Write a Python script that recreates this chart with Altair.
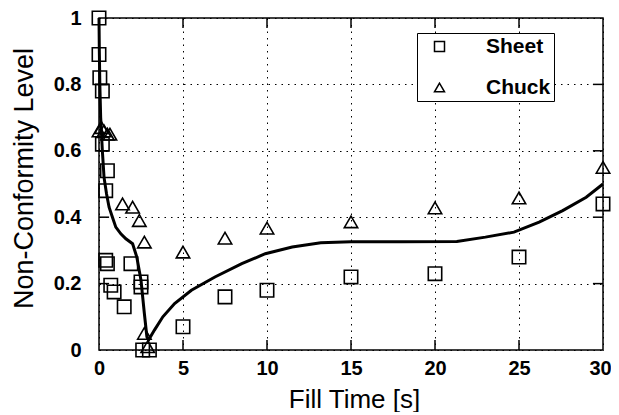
import altair as alt
import pandas as pd

# ---- data ----
sheet_x = [0, 0, 0.05, 0.2, 0.2, 0.5, 0.4, 0.4, 0.5, 0.7, 0.9, 1.5, 1.9, 2.5, 2.5, 2.6, 3.0,
           5, 7.5, 10, 15, 20, 25, 30]
sheet_y = [1.0, 0.89, 0.82, 0.78, 0.62, 0.54, 0.48, 0.27, 0.26, 0.195, 0.175, 0.13, 0.26,
           0.205, 0.19, 0.0, 0.0, 0.07, 0.16, 0.18, 0.22, 0.23, 0.28, 0.44]

chuck_x = [0, 0.15, 0.3, 0.5, 0.65, 1.4, 2.0, 2.4, 2.7, 2.7, 2.9,
           5, 7.5, 10, 15, 20, 25, 30]
chuck_y = [0.66, 0.67, 0.66, 0.65, 0.65, 0.44, 0.43, 0.39, 0.325, 0.05, 0.01,
           0.295, 0.337, 0.367, 0.386, 0.428, 0.458, 0.55]

curve_x = [0, 0.02, 0.05, 0.1, 0.2, 0.3, 0.45, 0.6, 0.8, 1.0, 1.3, 1.6, 2.0, 2.25, 2.5, 2.7,
           2.85, 2.95, 3.3, 3.8, 4.5, 5.5, 6.9, 8.5, 9.9, 11.5, 13.2, 15, 18, 21.3, 23, 24.7,
           26.2, 27.6, 29, 30]
curve_y = [1.0, 0.9, 0.8, 0.7, 0.6, 0.52, 0.47, 0.43, 0.40, 0.37, 0.35, 0.335, 0.32, 0.28,
           0.21, 0.11, 0.04, 0.03, 0.06, 0.10, 0.14, 0.18, 0.22, 0.26, 0.29, 0.31, 0.323,
           0.326, 0.326, 0.327, 0.34, 0.355, 0.385, 0.42, 0.46, 0.50]

x_ticks = [0, 5, 10, 15, 20, 25, 30]
y_ticks = [0, 0.2, 0.4, 0.6, 0.8, 1]
series = ["Sheet", "Chuck"]

FONT = "Liberation Sans"

pts = pd.DataFrame({
    "t": sheet_x + chuck_x,
    "v": sheet_y + chuck_y,
    "s": ["Sheet"] * len(sheet_x) + ["Chuck"] * len(chuck_x),
})
curve = pd.DataFrame({"t": curve_x, "v": curve_y, "o": list(range(len(curve_x)))})

xs = alt.Scale(domain=[0, 30], nice=False)
ys = alt.Scale(domain=[0, 1], nice=False)

xaxis = alt.Axis(values=x_ticks, grid=True, gridDash=[1.5, 5], gridColor="black",
                 gridOpacity=1, gridWidth=1, ticks=False, domain=False,
                 labelFont=FONT, labelFontSize=20, labelFontWeight="bold",
                 labelColor="black", labelPadding=8, labelFlush=False,
                 labelOffset={"condition": {"test": "datum.value === 30", "value": -3},
                              "value": 0},
                 title="Fill Time [s]", titleFont=FONT, titleFontSize=26,
                 titleFontWeight="normal", titleColor="black",
                 titleX=255, titleAlign="center",
                 titleY=57, titleBaseline="alphabetic")
yaxis = alt.Axis(values=y_ticks, grid=True, gridDash=[1.5, 5], gridColor="black",
                 gridOpacity=1, gridWidth=1, ticks=False, domain=False, format="~g",
                 labelFont=FONT, labelFontSize=20, labelFontWeight="bold",
                 labelColor="black", labelPadding=18,
                 title="Non-Conformity Level", titleFont=FONT, titleFontSize=27,
                 titleFontWeight="normal", titleColor="black",
                 titleX=-75, titleY=160, titleAngle=-90, titleBaseline="middle",
                 titleAlign="center")

points = alt.Chart(pts).mark_point(filled=False, strokeWidth=1.6, size=180, opacity=1,
                                   color="black").encode(
    x=alt.X("t:Q", scale=xs, axis=xaxis),
    y=alt.Y("v:Q", scale=ys, axis=yaxis),
    shape=alt.Shape("s:N", scale=alt.Scale(domain=series, range=["square", "triangle-up"]),
                    legend=alt.Legend(orient="none", legendX=318, legendY=15, title=None,
                                      strokeColor="black", fillColor="white", padding=3,
                                      symbolOffset=9, symbolSize=100,
                                      symbolStrokeWidth=1.5, symbolStrokeColor="black",
                                      symbolFillColor="white", symbolType="square",
                                      labelFont=FONT, labelFontSize=21,
                                      labelFontWeight="bold", labelColor="black",
                                      labelOffset=36, rowPadding=19)),
)

line = alt.Chart(curve).mark_line(color="black", strokeWidth=3).encode(
    x=alt.X("t:Q", scale=xs), y=alt.Y("v:Q", scale=ys), order="o:Q")

# inward tick marks on all four sides (tick positions through the scales)
inner_x = [t for t in x_ticks if 0 < t < 30]
inner_y = [t for t in y_ticks if 0 < t < 1]
tick_df = pd.DataFrame(
    [{"x": t, "x2": t, "y": 0, "y2": 0.03} for t in inner_x]
    + [{"x": t, "x2": t, "y": 1, "y2": 0.97} for t in inner_x]
    + [{"x": 0, "x2": 0.6, "y": v, "y2": v} for v in inner_y]
    + [{"x": 30, "x2": 29.4, "y": v, "y2": v} for v in inner_y]
)
ticks = alt.Chart(tick_df).mark_rule(color="black", strokeWidth=1.5).encode(
    x=alt.X("x:Q", scale=xs), x2="x2:Q", y=alt.Y("y:Q", scale=ys), y2="y2:Q")

chart = alt.layer(ticks, points, line).properties(
    width=504, height=332,
    autosize=alt.AutoSizeParams(type="none"),
    padding={"left": 91, "top": 10, "right": 8, "bottom": 62},
    background="white",
).configure_view(stroke="black", strokeWidth=1.5)

chart.save("out.html", embed_options={"renderer": "svg", "actions": False})
